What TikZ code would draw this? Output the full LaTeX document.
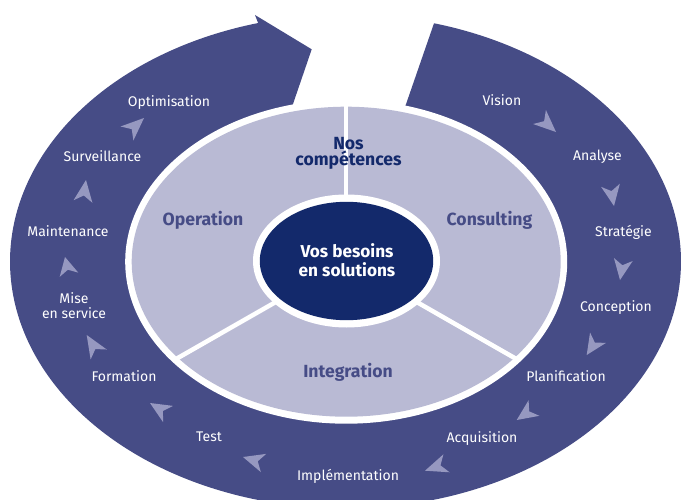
\documentclass[tikz,border=0pt]{standalone}
\usepackage{fontspec}
\setmainfont{Fira Sans}
\usetikzlibrary{calc}
\definecolor{ringc}{HTML}{464C86}
\definecolor{lightc}{HTML}{B9BAD4}
\definecolor{navyc}{HTML}{13296B}
\definecolor{dartc}{HTML}{9698C0}
\tikzset{
  lbl/.style={text=white, font=\fontsize{14}{15.3}\selectfont, align=center, inner sep=0pt, anchor=base},
  seg/.style={text=ringc, font=\bfseries\fontsize{17.6}{16.7}\selectfont, align=center, inner sep=0pt, anchor=base},
  core/.style={text=white, font=\bfseries\fontsize{17.2}{19}\selectfont, align=center, inner sep=0pt},
  dartshape/.style={fill=dartc},
  divider/.style={draw=white, line width=4.5pt},
}
\newcommand\flowdart[2]{\fill[dartshape] (#1) -- ($(#2)!9.5pt!90:(#1)$) -- ($(#2)!0.28!(#1)$) -- ($(#2)!9.5pt!-90:(#1)$) -- cycle;}
\begin{document}
\begin{tikzpicture}[x=1pt,y=-1pt]
\clip (0,0) rectangle (682,500);
\fill[white] (0,0) rectangle (682,500);
% outer ring with arrow
\fill[ringc] (434,23.3) -- plot[domain=-74.7:254.9, samples=300] ({345.5+335.5*cos(\x)},{261.5+247*sin(\x)})
  -- (255,15) -- (311.7,49.3) -- (280,142) -- (346,262) -- (395,136) -- cycle;
% competence disk
\coordinate (ctr) at (346.2,261.7);
\fill[white] (ctr) ellipse [x radius=221pt, y radius=162pt];
\fill[lightc] (ctr) ellipse [x radius=214.5pt, y radius=155pt];
\coordinate (dtop) at (346.2,100);
\coordinate (dleft) at (176.4,358.8);
\coordinate (dright) at (516,358.8);
\draw[divider] (ctr) -- (dtop);
\draw[divider] (ctr) -- (dleft);
\draw[divider] (ctr) -- (dright);
\fill[white] (346.5,261) ellipse [x radius=93.5pt, y radius=66.5pt];
\fill[navyc] (346.5,261) ellipse [x radius=86.7pt, y radius=59.2pt];
% flow darts
\coordinate (t1) at (144,118);   \coordinate (m1) at (127,133.5);
\coordinate (t2) at (86,180);    \coordinate (m2) at (83,201.5);
\coordinate (t3) at (65,257);    \coordinate (m3) at (69,274.7);
\coordinate (t4) at (86.7,335);  \coordinate (m4) at (98.7,354.5);
\coordinate (t5) at (150,403);   \coordinate (m5) at (168,414);
\coordinate (t6) at (243,457);   \coordinate (m6) at (263.5,463);
\coordinate (t7) at (425,470.7); \coordinate (m7) at (446.5,463.3);
\coordinate (t8) at (516.7,420); \coordinate (m8) at (534,408);
\coordinate (t9) at (586.7,355); \coordinate (m9) at (598,337.7);
\coordinate (t10) at (620,280);  \coordinate (m10) at (623.3,259.5);
\coordinate (t11) at (614,206);  \coordinate (m11) at (610.5,185.3);
\coordinate (t12) at (556,132);  \coordinate (m12) at (539.5,117);
\foreach \i in {1,...,12} {\flowdart{t\i}{m\i}}
% ring labels
\node[lbl] (vision) at (502,106) {Vision};
\node[lbl] (analyse) at (597.5,160) {Analyse};
\node[lbl] (strategie) at (623.5,236) {Stratégie};
\node[lbl] (conception) at (616,311) {Conception};
\node[lbl] (planif) at (566,381) {Planification};
\node[lbl] (acquis) at (482,442) {Acquisition};
\node[lbl] (implem) at (348,480.7) {Implémentation};
\node[lbl] (test) at (209,441.7) {Test};
\node[lbl] (formation) at (124,381) {Formation};
\node[lbl] (mise) at (74,318.6) {Mise\\en service};
\node[lbl] (maint) at (68,236.7) {Maintenance};
\node[lbl] (surv) at (102.5,161) {Surveillance};
\node[lbl] (optim) at (169,106.7) {Optimisation};
% segment labels
\node[seg, text=navyc] (nos) at (348.5,165.7) {Nos\\compétences};
\node[seg] (operation) at (203,225.7) {Operation};
\node[seg] (consulting) at (489.5,225.7) {Consulting};
\node[seg] (integration) at (348,377.3) {Integration};
\node[core] (besoins) at (347,260) {Vos besoins\\en solutions};
\end{tikzpicture}
\end{document}
